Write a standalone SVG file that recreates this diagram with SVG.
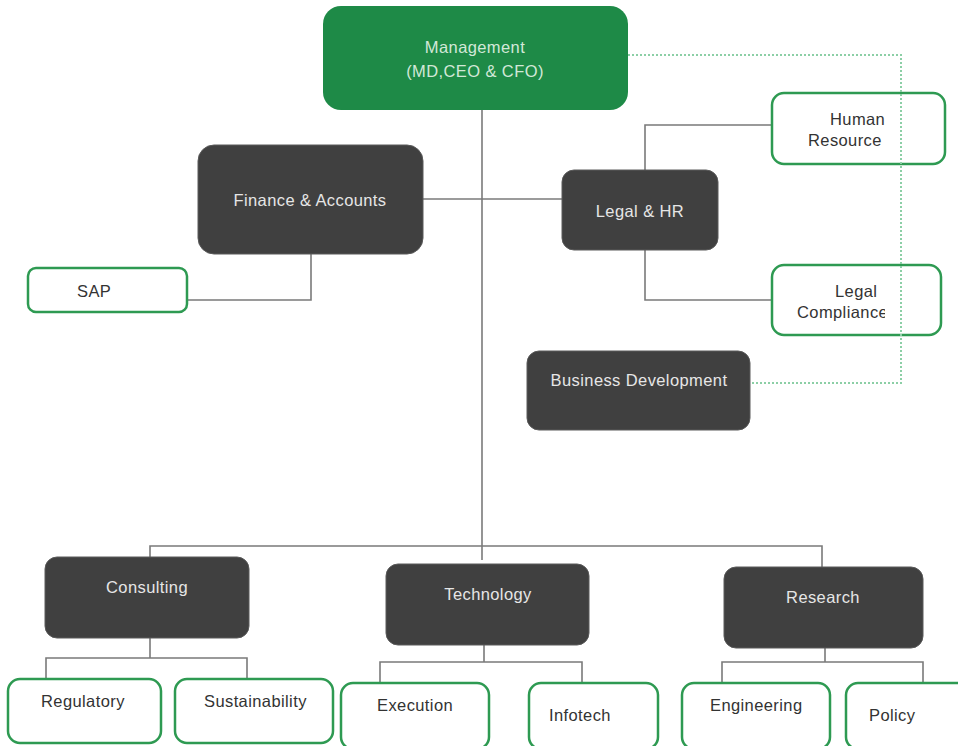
<svg xmlns="http://www.w3.org/2000/svg" width="958" height="746" viewBox="0 0 958 746">
<style>
  text { font-family: "Liberation Sans", Arial, sans-serif; font-size: 16.5px; letter-spacing: 0.4px; }
  .dark rect { fill: #404040; stroke: #5a5a5a; stroke-width: 1; }
  .dark text { fill: #e6e6e6; text-anchor: middle; }
  .green rect { fill: #ffffff; stroke: #2e9a52; stroke-width: 2.5; }
  .green text { fill: #333333; }
  .conn { fill: none; stroke: #7a7a7a; stroke-width: 1.6; }
  .dot { fill: none; stroke: #8ccfa6; stroke-width: 2; stroke-dasharray: 2 2; }
</style>
<defs>
  <clipPath id="clipR"><rect x="0" y="0" width="885" height="746"/></clipPath>
</defs>
<rect width="958" height="746" fill="#ffffff"/>
<g id="connectors">
  <path class="conn" d="M482 110 V560"/>
  <path class="conn" d="M423 199 H562"/>
  <path class="conn" d="M645 170 V125 H772"/>
  <path class="conn" d="M645 250 V300 H772"/>
  <path class="conn" d="M311 254 V300 H187"/>
  <path class="conn" d="M150 558 V546 H822 V567"/>
  <path class="conn" d="M150 638 V658 M46 678 V658 H247 V678"/>
  <path class="conn" d="M484 645 V662 M380 683 V662 H582 V683"/>
  <path class="conn" d="M825 648 V662 M722 683 V662 H923 V683"/>
</g>
<g id="management">
  <rect x="323" y="6" width="305" height="104" rx="18" fill="#1e8a47"/>
  <text x="475" y="53" text-anchor="middle" fill="#d2e8d8">Management</text>
  <text x="475" y="77" text-anchor="middle" fill="#d2e8d8">(MD,CEO &amp; CFO)</text>
</g>
<g id="finance" class="dark">
  <rect x="198" y="145" width="225" height="109" rx="16"/>
  <text x="310" y="206">Finance &amp; Accounts</text>
</g>
<g id="legal-hr" class="dark">
  <rect x="562" y="170" width="156" height="80" rx="12"/>
  <text x="640" y="217">Legal &amp; HR</text>
</g>
<g id="human-resource" class="green">
  <rect x="772" y="93" width="173" height="71" rx="12"/>
  <g clip-path="url(#clipR)">
    <text x="830" y="125">Human</text>
    <text x="808" y="146">Resource</text>
  </g>
</g>
<g id="legal-compliance" class="green">
  <rect x="772" y="265" width="169" height="70" rx="12"/>
  <g clip-path="url(#clipR)">
    <text x="835" y="297">Legal</text>
    <text x="797" y="318">Compliance</text>
  </g>
</g>
<g id="sap" class="green">
  <rect x="28" y="268" width="159" height="44" rx="8"/>
  <text x="77" y="297">SAP</text>
</g>
<g id="business-development" class="dark">
  <rect x="527" y="351" width="223" height="79" rx="12"/>
  <text x="639" y="386">Business Development</text>
</g>
<g id="consulting" class="dark">
  <rect x="45" y="557" width="204" height="81" rx="12"/>
  <text x="147" y="593">Consulting</text>
</g>
<g id="technology" class="dark">
  <rect x="386" y="564" width="203" height="81" rx="12"/>
  <text x="488" y="600">Technology</text>
</g>
<g id="research" class="dark">
  <rect x="724" y="567" width="199" height="81" rx="12"/>
  <text x="823" y="603">Research</text>
</g>
<g id="regulatory" class="green">
  <rect x="8" y="679" width="153" height="64" rx="12"/>
  <text x="41" y="707">Regulatory</text>
</g>
<g id="sustainability" class="green">
  <rect x="175" y="679" width="158" height="64" rx="12"/>
  <text x="204" y="707">Sustainability</text>
</g>
<g id="execution" class="green">
  <rect x="341" y="683" width="148" height="66" rx="12"/>
  <text x="377" y="711">Execution</text>
</g>
<g id="infotech" class="green">
  <rect x="529" y="683" width="129" height="66" rx="12"/>
  <text x="549" y="721">Infotech</text>
</g>
<g id="engineering" class="green">
  <rect x="682" y="683" width="148" height="66" rx="12"/>
  <text x="710" y="711">Engineering</text>
</g>
<g id="policy" class="green">
  <rect x="846" y="683" width="130" height="66" rx="12"/>
  <text x="869" y="721">Policy</text>
</g>
<g id="dotted-connector">
  <path class="dot" d="M628 55 H901 V383 H750"/>
</g>
</svg>
